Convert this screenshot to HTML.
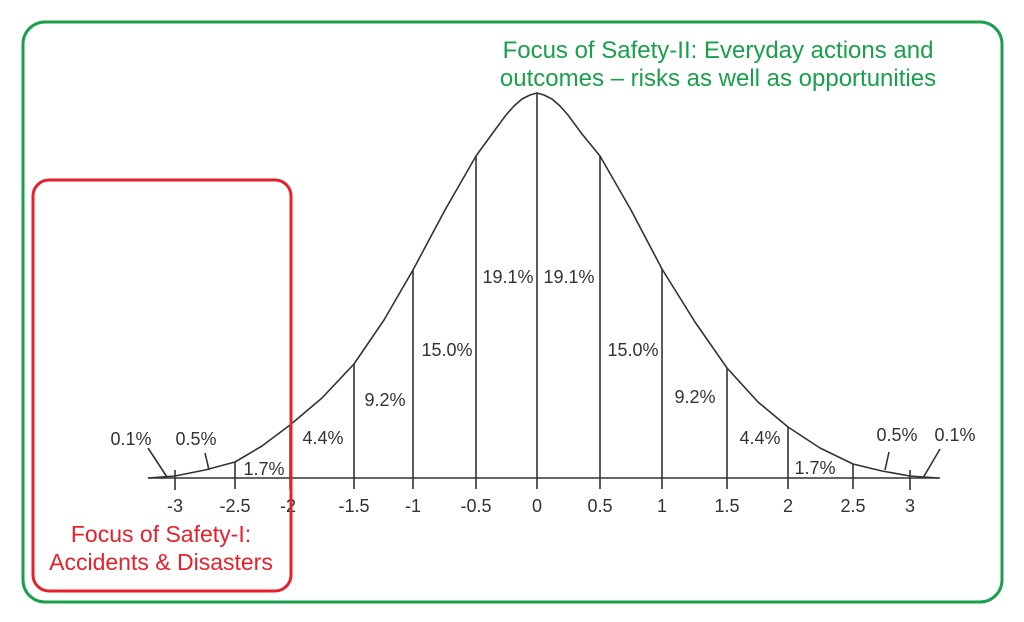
<!DOCTYPE html>
<html><head><meta charset="utf-8"><style>
html,body{margin:0;padding:0;background:#fff;}
svg{display:block;}
text{font-family:"Liberation Sans",sans-serif;}
</style></head><body>
<svg width="1024" height="622" viewBox="0 0 1024 622" xmlns="http://www.w3.org/2000/svg">
<rect x="23" y="22" width="979" height="580" rx="22" fill="none" stroke="#19a04b" stroke-width="3"/>
<g stroke="#333" stroke-width="1.6" fill="none">
<line x1="148" y1="478" x2="940" y2="478"/>
<polyline stroke-linejoin="round" points="148,478 175,476 205,470 235,462 262,446 290,425 322,398 354,364 384,320 413,270 445,210 476,156 492,134 506,115 514,106 522,99 530,95 537,93 544,95 552,99 560,106 568,115 582,134 600,156 631,210 662,269 695,322 727,368 758,402 788,427 820,448 853,464 882,471 910,476 938,478"/>
<line x1="175" y1="470" x2="175" y2="490"/>
<line x1="235" y1="462" x2="235" y2="489"/>
<line x1="290" y1="425" x2="290" y2="489"/>
<line x1="354" y1="364" x2="354" y2="489"/>
<line x1="413" y1="270" x2="413" y2="489"/>
<line x1="476" y1="156" x2="476" y2="489"/>
<line x1="537" y1="93" x2="537" y2="489"/>
<line x1="600" y1="156" x2="600" y2="489"/>
<line x1="662" y1="269" x2="662" y2="489"/>
<line x1="727" y1="368" x2="727" y2="489"/>
<line x1="788" y1="427" x2="788" y2="489"/>
<line x1="853" y1="464" x2="853" y2="489"/>
<line x1="910" y1="470" x2="910" y2="490"/>
<line x1="148" y1="448" x2="167" y2="477"/>
<line x1="205" y1="453" x2="209" y2="470"/>
<line x1="889" y1="452" x2="885" y2="470"/>
<line x1="940" y1="449" x2="923" y2="478"/>
</g>
<g fill="#333" font-size="18" text-anchor="middle">
<text x="131" y="445">0.1%</text>
<text x="196" y="445">0.5%</text>
<text x="264" y="475">1.7%</text>
<text x="323" y="444">4.4%</text>
<text x="385" y="406">9.2%</text>
<text x="447" y="356">15.0%</text>
<text x="508" y="283">19.1%</text>
<text x="569" y="283">19.1%</text>
<text x="633" y="356">15.0%</text>
<text x="695" y="403">9.2%</text>
<text x="760" y="444">4.4%</text>
<text x="815" y="474">1.7%</text>
<text x="897" y="441">0.5%</text>
<text x="955" y="441">0.1%</text>
<text x="175" y="512">-3</text>
<text x="235" y="512">-2.5</text>
<text x="288" y="512">-2</text>
<text x="354" y="512">-1.5</text>
<text x="413" y="512">-1</text>
<text x="476" y="512">-0.5</text>
<text x="537" y="512">0</text>
<text x="600" y="512">0.5</text>
<text x="662" y="512">1</text>
<text x="727" y="512">1.5</text>
<text x="788" y="512">2</text>
<text x="853" y="512">2.5</text>
<text x="910" y="512">3</text>
</g>
<rect x="33" y="180" width="258" height="411" rx="16" fill="none" stroke="#e8202a" stroke-width="3"/>
<g fill="#e8202a" font-size="23" text-anchor="middle">
<text x="161" y="542">Focus of Safety-I:</text>
<text x="161" y="570">Accidents &amp; Disasters</text>
</g>
<g fill="#19a04b" font-size="24" text-anchor="middle">
<text x="718" y="58">Focus of Safety-II: Everyday actions and</text>
<text x="718" y="86">outcomes – risks as well as opportunities</text>
</g>
</svg>
</body></html>
